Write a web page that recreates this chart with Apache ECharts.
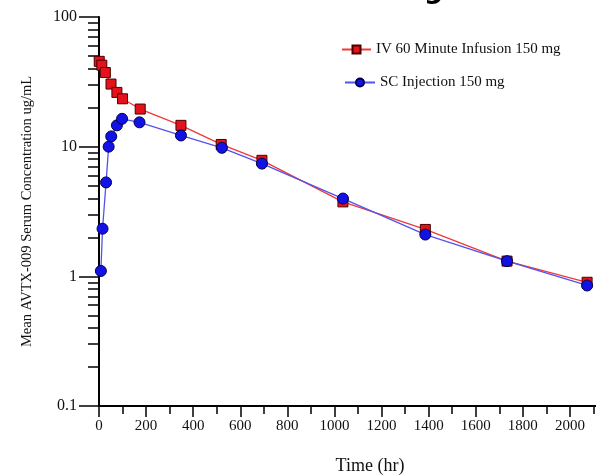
<!DOCTYPE html>
<html>
<head>
<meta charset="utf-8">
<title>AVTX-009 PK</title>
<script src="https://cdn.jsdelivr.net/npm/echarts@6/dist/echarts.min.js"></script>
<style>
  html, body { margin: 0; padding: 0; background: #fff; }
  #main { width: 596px; height: 475px; }
</style>
</head>
<body>
<div id="main"></div>
<script>
// values (time in hours, concentration in ug/mL)
const ivTime = [1, 12, 27, 51, 76, 100, 175, 348, 519, 692, 1036, 1386, 1733, 2073];
const ivConc = [45.5, 42.5, 37.3, 30.4, 26.2, 23.4, 19.5, 14.6, 10.4, 7.85, 3.75, 2.3, 1.31, 0.9];
const scTime = [8, 15, 30, 41, 52, 76, 98, 172, 348, 522, 692, 1036, 1386, 1733, 2073];
const scConc = [1.1, 2.33, 5.3, 10.0, 12.0, 14.6, 16.4, 15.4, 12.2, 9.8, 7.4, 3.98, 2.1, 1.31, 0.85];

const yMajor = [0.1, 1, 10, 100];
const yMinor = [0.2, 0.3, 0.4, 0.5, 0.6, 0.7, 0.8, 0.9, 2, 3, 4, 5, 6, 7, 8, 9, 20, 30, 40, 50, 60, 70, 80, 90];

const ivName = 'IV 60 Minute Infusion 150 mg';
const scName = 'SC Injection 150 mg';

const serif = '"Liberation Serif", "DejaVu Serif", serif';

let chart = echarts.init(document.getElementById('main'));

let pairs = (xs, ys) => xs.map((x, i) => [x, ys[i]]);

let option = {
    animation: false,
    backgroundColor: '#fff',
    // bottom of a cropped heading
    title: {
        text: 'g',
        left: 419,
        top: -28,
        textStyle: { fontFamily: '"DejaVu Sans"', fontWeight: 'bold', fontSize: 27, color: '#000' }
    },
    legend: [{
        data: [ivName],
        left: 336,
        top: 37,
        itemWidth: 29,
        itemHeight: 10,
        textStyle: { fontFamily: serif, fontSize: 15, color: '#111' }
    }, {
        data: [scName],
        left: 339,
        top: 70,
        itemWidth: 30,
        itemHeight: 10,
        textStyle: { fontFamily: serif, fontSize: 15, color: '#111' }
    }],
    grid: { left: 99, right: -21, top: 17, bottom: 69, containLabel: false, outerBoundsMode: 'none' },
    xAxis: {
        type: 'value',
        min: 0,
        max: 2200,
        interval: 200,
        name: 'Time (hr)',
        nameLocation: 'middle',
        nameGap: 51,
        nameTextStyle: { fontFamily: serif, fontSize: 18, color: '#111', padding: [0, 0, 0, 24] },
        axisLine: { lineStyle: { color: '#000', width: 2 } },
        axisTick: { length: 11, lineStyle: { color: '#000', width: 1.5 } },
        minorTick: { show: true, splitNumber: 2, length: 8, lineStyle: { color: '#000', width: 1.5 } },
        splitLine: { show: false },
        axisLabel: {
            margin: 13,
            fontFamily: serif,
            fontSize: 15,
            color: '#111',
            formatter: (v) => String(v)
        }
    },
    yAxis: [{
        type: 'log',
        logBase: 10,
        min: 0.1,
        max: 100,
        position: 'left',
        name: 'Mean AVTX-009 Serum Concentration ug/mL',
        nameLocation: 'middle',
        nameGap: 64,
        nameTextStyle: { fontFamily: serif, fontSize: 14.5, color: '#111' },
        axisLine: { lineStyle: { color: '#000', width: 2 } },
        axisTick: { customValues: yMajor, length: 20, lineStyle: { color: '#000', width: 1.5 } },
        splitLine: { show: false },
        axisLabel: {
            customValues: yMajor,
            margin: 22,
            fontFamily: serif,
            fontSize: 16,
            color: '#111',
            formatter: (v) => String(v)
        }
    }, {
        type: 'log',
        logBase: 10,
        min: 0.1,
        max: 100,
        position: 'left',
        axisLine: { show: false },
        axisTick: { customValues: yMinor, length: 11, lineStyle: { color: '#000', width: 1.5 } },
        axisLabel: { show: false },
        splitLine: { show: false }
    }],
    series: [{
        name: ivName,
        type: 'line',
        data: pairs(ivTime, ivConc),
        symbol: 'rect',
        symbolSize: 10,
        lineStyle: { color: '#f03838', width: 1.3 },
        itemStyle: { color: '#e5121b', borderColor: '#4a0000', borderWidth: 1 }
    }, {
        name: scName,
        type: 'line',
        data: pairs(scTime, scConc),
        symbol: 'circle',
        symbolSize: 11,
        lineStyle: { color: '#5252ee', width: 1.3 },
        itemStyle: { color: '#1212e6', borderColor: '#00004a', borderWidth: 1 }
    }]
};
chart.setOption(option);
</script>
</body>
</html>
